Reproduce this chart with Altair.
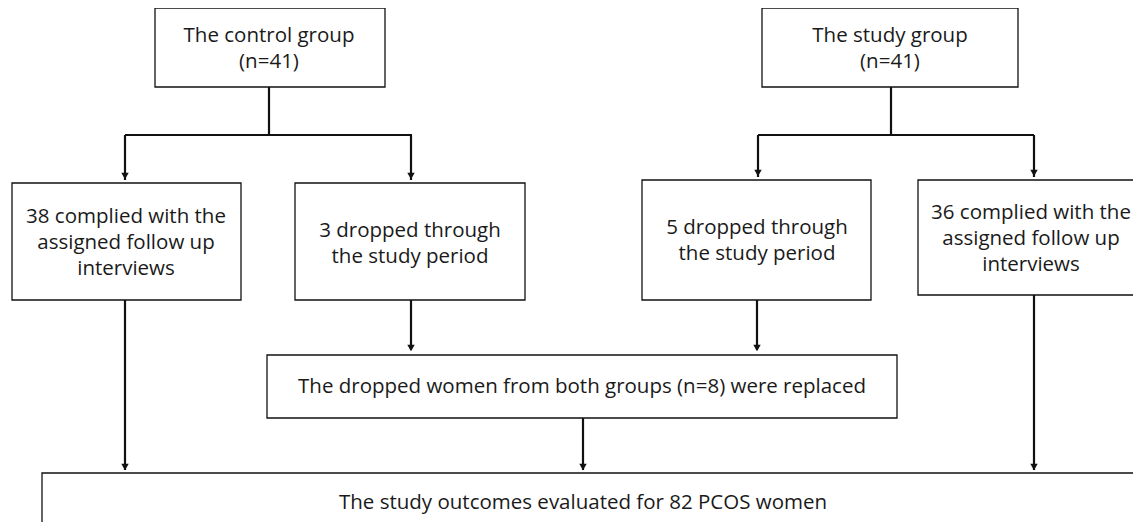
import altair as alt
import pandas as pd

# Boxes (pixel layout of the flow diagram)
box_labels = [
    "The control group\n(n=41)",
    "The study group\n(n=41)",
    "38 complied with the\nassigned follow up\ninterviews",
    "3 dropped through\nthe study period",
    "5 dropped through\nthe study period",
    "36 complied with the\nassigned follow up\ninterviews",
    "The dropped women from both groups (n=8) were replaced",
    "The study outcomes evaluated for 82 PCOS women",
]
box_x1 = [155, 762, 12, 295, 642, 918, 267, 42]
box_x2 = [385, 1018, 241, 525, 871, 1150, 897, 1150]
box_y1 = [8, 8, 183, 183, 180, 180, 355, 473]
box_y2 = [87, 87, 300, 300, 300, 295, 418, 560]
text_x = [269, 890, 126, 410, 757, 1031, 582, 583]
text_y = [36, 36, 217, 231, 228, 213, 387, 503]

# Connector segments
seg_x1 = [269, 125, 125, 411, 891, 758, 758, 1034, 411, 757, 125, 583, 1034]
seg_x2 = [269, 412, 125, 411, 891, 1034, 758, 1034, 411, 757, 125, 583, 1034]
seg_y1 = [87, 135, 135, 135, 87, 135, 135, 135, 300, 300, 300, 418, 295]
seg_y2 = [135, 135, 180, 180, 135, 135, 177, 177, 350, 350, 470, 470, 470]

# Arrow heads
arrow_x = [125, 411, 758, 1034, 411, 757, 125, 583, 1034]
arrow_y = [180, 180, 177, 177, 352, 352, 471, 471, 471]

boxes = pd.DataFrame({"label": box_labels, "x1": box_x1, "x2": box_x2,
                      "y1": box_y1, "y2": box_y2, "tx": text_x, "ty": text_y})
segs = pd.DataFrame({"x1": seg_x1, "x2": seg_x2, "y1": seg_y1, "y2": seg_y2})
arrows = pd.DataFrame({"x": arrow_x, "y": [v - 4 for v in arrow_y]})

xs = alt.Scale(domain=[8, 1133])
ys = alt.Scale(domain=[8, 522], reverse=True)
noax = None

rects = alt.Chart(boxes).mark_rect(fill="white", stroke="#111", strokeWidth=1.3, clip=True).encode(
    x=alt.X("x1:Q", scale=xs, axis=noax), x2="x2:Q",
    y=alt.Y("y1:Q", scale=ys, axis=noax), y2="y2:Q")

lines = alt.Chart(segs).mark_rule(color="#111", strokeWidth=2.2).encode(
    x=alt.X("x1:Q", scale=xs, axis=noax), x2="x2:Q",
    y=alt.Y("y1:Q", scale=ys, axis=noax), y2="y2:Q")

heads = alt.Chart(arrows).mark_point(shape="triangle-down", filled=True, color="#111",
                                     size=55, opacity=1).encode(
    x=alt.X("x:Q", scale=xs, axis=noax), y=alt.Y("y:Q", scale=ys, axis=noax))

texts = alt.Chart(boxes).mark_text(font="Open Sans", fontSize=20.5, fontWeight=500, color="#1a1a1a",
                                   lineBreak="\n", lineHeight=26,
                                   align="center", baseline="middle").encode(
    x=alt.X("tx:Q", scale=xs, axis=noax), y=alt.Y("ty:Q", scale=ys, axis=noax),
    text="label:N")

chart = alt.layer(lines, rects, heads, texts).properties(
    width=1125, height=514, padding=0, autosize="none"
).configure_view(stroke=None)

chart.save("out.html", embed_options={"renderer": "svg", "actions": False})
